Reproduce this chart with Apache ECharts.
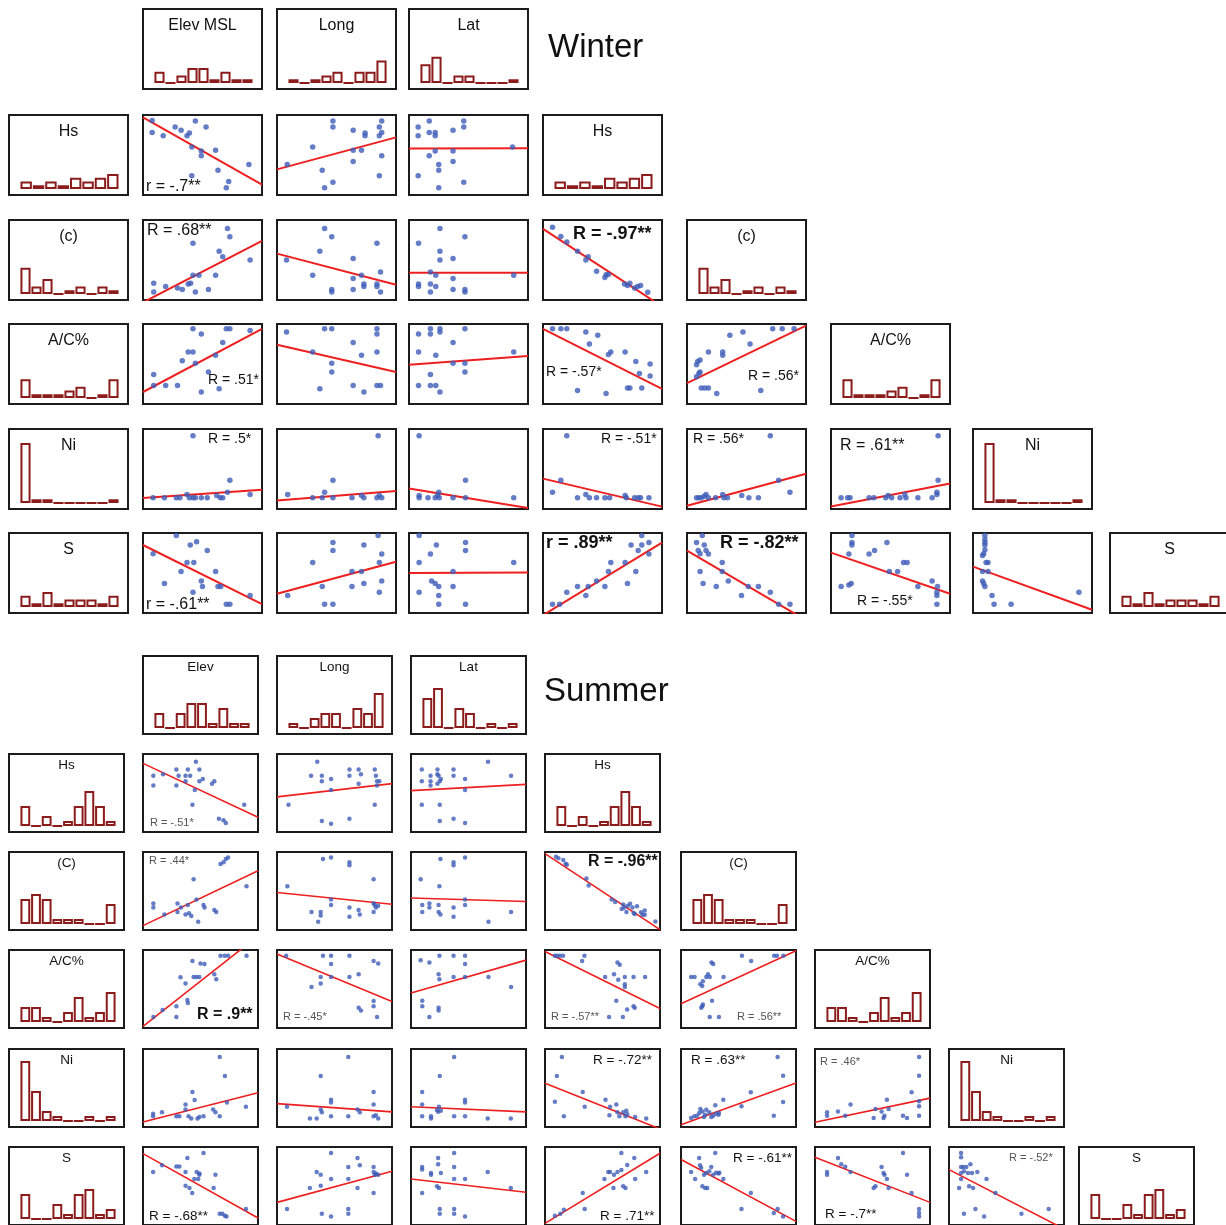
<!DOCTYPE html>
<html><head><meta charset="utf-8">
<script src="https://cdn.jsdelivr.net/npm/echarts@6/dist/echarts.min.js"></script>
<style>html,body{margin:0;padding:0;background:#fff}#c{width:1226px;height:1225px}</style>
</head><body><div id="c"></div>
<script>
// ---------- Winter histograms (counts per bin) ----------
var W_HIST_ELEV = [3,0,2,4,4,1,3,1,1];
var W_HIST_LONG = [1,0,1,2,3,0,3,3,6];
var W_HIST_LAT  = [5,7,0,2,2,0,0,0,1];
var W_HIST_HS   = [2,1,2,1,3,2,3,4];
var W_HIST_C    = [7,2,4,0,1,2,0,2,1];
var W_HIST_AC   = [5,1,1,1,2,3,0,1,5];
var W_HIST_NI   = [16,1,1,0,0,0,0,0,1];
var W_HIST_S    = [3,1,4,1,2,2,2,1,3];
// ---------- Summer histograms ----------
var SU_HIST_ELEV = [3,0,3,5,5,1,4,1,1];
var SU_HIST_LONG = [1,0,2,3,3,0,4,3,7];
var SU_HIST_LAT  = [6,8,0,4,3,0,1,0,1];
var SU_HIST_HS   = [4,0,2,0,1,4,7,4,1];
var SU_HIST_C    = [5,6,5,1,1,1,0,0,4];
var SU_HIST_AC   = [3,3,1,0,2,5,1,2,6];
var SU_HIST_NI   = [12,6,2,1,0,0,1,0,1];
var SU_HIST_S    = [5,0,0,3,1,5,6,1,2];

// ---------- labels ----------
var W_HDR = ['Elev MSL','Long','Lat'];
var W_ROWLAB = ['Hs','(c)','A/C%','Ni','S'];
var SU_HDR = ['Elev','Long','Lat'];
var SU_ROWLAB = ['Hs','(C)','A/C%','Ni','S'];
var W_NOTES = {HS_ELEV:'r = -.7**', C_ELEV:'R = .68**', C_HS:'R = -.97**', AC_ELEV:'R = .51*', AC_HS:'R = -.57*', AC_C:'R = .56*', NI_ELEV:'R = .5*', NI_HS:'R = -.51*', NI_C:'R = .56*', NI_AC:'R = .61**', S_ELEV:'r = -.61**', S_HS:'r = .89**', S_C:'R = -.82**', S_AC:'R = -.55*'};
var SU_NOTES = {HS_ELEV:'R = -.51*', C_ELEV:'R = .44*', C_HS:'R = -.96**', AC_ELEV:'R = .9**', AC_LONG:'R = -.45*', AC_HS:'R = -.57**', AC_C:'R = .56**', NI_HS:'R = -.72**', NI_C:'R = .63**', NI_AC:'R = .46*', S_ELEV:'R = -.68**', S_HS:'R = .71**', S_C:'R = -.61**', S_AC:'R = -.7**', S_NI:'R = -.52*'};

// ---------- Winter scatter points [x%, y%] and fitted lines ----------
var W_HS_ELEV = [[7.7,93],[7.7,78],[17,74],[27,85],[32,81],[37,74],[39,77.5],[44,92.5],[53,85],[41,60],[49,55],[49,49],[61,56],[63,31],[41,24],[72,17],[70,9],[89,38]];
var W_HS_ELEV_FIT = [[0,97],[100,13]];
var W_HS_LONG = [[47,92.5],[47,85],[64,81],[74,77.5],[74,74],[86,85],[88,92.5],[88,78],[86,74],[30,60],[8.6,38],[64,56],[71,56],[64,42],[88,49],[38,31],[47,16],[40,9],[86,24]];
var W_HS_LONG_FIT = [[0,32],[100,72]];
var W_HS_LAT = [[7.7,85],[7.7,74],[17,92.5],[17,78],[22,78],[22,74],[37,81],[46,92.5],[46,85],[22,55],[17,49],[37,55],[37,42],[25,38],[25,31],[7.7,24],[25,9],[46,16],[87,60]];
var W_HS_LAT_FIT = [[0,58],[100,58.5]];
var W_C_ELEV = [[9,21],[9,10],[19,17],[29,15],[33,13],[38,20],[40,21],[44,10],[42,31],[47,31],[55,13],[61,31],[42,71],[64,61],[67,54],[71,89.5],[73,79],[90,50]];
var W_C_ELEV_FIT = [[0,-3],[100,74]];
var W_C_LONG = [[8,50],[30,31],[36,61],[40,89.5],[46,79],[46,13],[46,10],[64,52],[64,27],[64,13],[71,31],[73,20],[73,17],[84,71],[84,20],[84,17],[87,35],[87,10]];
var W_C_LONG_FIT = [[0,58],[100,19]];
var W_C_LAT = [[8,71],[8,20],[8,17],[18,35],[18,20],[18,10],[22.5,31],[22.5,17],[26,89.5],[26,61],[26,50],[37,52],[37,27],[37,13],[47,79],[47,13],[47,10],[88,31]];
var W_C_LAT_FIT = [[0,34],[100,34]];
var W_C_HS = [[8,91],[15,79.5],[20,72.6],[29,61],[36,50],[38,54],[45,36],[52,28],[53,31.6],[55,32],[68.5,20],[71,18],[73,21],[77,15],[79.5,17],[82,18],[88,9.7]];
var W_C_HS_FIT = [[0,89],[100,-8]];
var W_AC_ELEV = [[9,37],[9,23],[19,23],[29,23],[33,54],[38,65],[42,65],[42,94],[44,51],[49,87.5],[49,15],[55,40],[61,61],[64,19],[67,77],[70,94],[73,94],[90,92]];
var W_AC_ELEV_FIT = [[0,15],[100,94]];
var W_AC_LONG = [[8,90],[30,65],[40,94],[46,94],[46,51],[46,40],[36,19],[64,77],[64,23],[71,61],[73,15],[84,94],[84,87.5],[84,65],[84,23],[87,23]];
var W_AC_LONG_FIT = [[0,74],[100,40]];
var W_AC_LAT = [[8,87.5],[8,65],[8,23],[18,94],[18,87.5],[18,37],[18,23],[22.5,61],[22.5,23],[26,94],[26,90],[26,15],[37,77],[37,51],[47,94],[47,51],[47,40],[88,65]];
var W_AC_LAT_FIT = [[0,49],[100,60]];
var W_AC_HS = [[8,94],[15,94],[20,94],[36,90],[46,86],[39,75],[55,62],[57,65],[69,65],[78,53],[81,38],[90,50],[90,35],[83,20],[71,20],[73,20],[53,13],[29,17]];
var W_AC_HS_FIT = [[0,94],[100,19]];
var W_AC_C = [[8,49],[9,53],[11,55],[8,34],[10,38],[11,40],[12,20],[15,20],[18,20],[18,65],[25,13],[30,65],[30,61],[36,86],[47,90],[53,75],[62,17],[72,94],[80,94],[90,94]];
var W_AC_C_FIT = [[0,26],[100,98]];
var W_NI_ELEV = [[8.5,14],[18,14],[28,14],[31,14],[37,18],[39,14],[42,14],[44,14],[49,14],[54,14],[62,17],[65,14],[67,14],[71,21],[73,36],[90,18],[42,91.5]];
var W_NI_ELEV_FIT = [[0,13.6],[100,24]];
var W_NI_LONG = [[9,18],[30,14],[38,14],[40,21],[47,36],[47,14],[63,14],[71,17],[73,14],[84,14],[86,17],[88,14],[85,91.5]];
var W_NI_LONG_FIT = [[0,10.6],[100,22.5]];
var W_NI_LAT = [[8.5,91.5],[8.5,17],[8.5,14],[16,14],[22,14],[24,17],[25,21],[25.4,14],[37,14],[47.5,36],[47.5,14],[88,14]];
var W_NI_LAT_FIT = [[0,25.5],[100,1.3]];
var W_NI_HS = [[8,21],[15,36],[20,91.5],[29,14],[36,18],[39,14],[45,14],[52,14],[56,14],[69,17],[70,14],[77,14],[80,14],[82,14],[89,14]];
var W_NI_HS_FIT = [[0,38],[100,3]];
var W_NI_C = [[8,14],[10,14],[12,14],[14.5,16],[16,18],[18,14],[24,14],[30,18],[31,14],[34,14],[46,17],[52,14],[60,14],[77,36],[86.5,21],[70,91.5]];
var W_NI_C_FIT = [[0,4],[100,44]];
var W_NI_AC = [[8.5,14],[14,14],[16,14],[32,14],[36,14],[46,14],[48,17],[51,14],[58,14],[62,18],[63,14],[73,14],[85,14],[89,18],[89,21],[90,36],[90,91.5]];
var W_NI_AC_FIT = [[0,3],[100,32]];
var W_S_ELEV = [[8.5,74],[18,37],[28,97],[32,52],[37,63],[39.7,85],[42.7,63],[45,89],[42,26],[49,40],[50,33],[54,78],[61,52],[63,33],[65.4,33],[70,11],[73,11],[90,22]];
var W_S_ELEV_FIT = [[0,85],[100,11]];
var W_S_LONG = [[9,22],[30,63],[38,33],[40,11],[47,88],[47,78],[47,11],[63,52],[63,33],[71,52],[73,85],[73,37],[85,97],[86,63],[88,73.8],[88,40],[86,26]];
var W_S_LONG_FIT = [[0,24],[100,64]];
var W_S_LAT = [[8.5,97],[8.5,63],[8.5,26],[18,73.8],[19,40],[22,37],[23,85],[25,33],[25,22],[25,11],[37,52],[37,33],[47.5,88],[47.5,78],[47.5,11],[88,63]];
var W_S_LAT_FIT = [[0,50],[100,50.5]];
var W_S_HS = [[8,11],[14,11],[20,26],[29,33],[36,22],[38,33],[45,40],[52,33],[55,52],[57,63],[69,63],[71,37],[74,85],[78,52],[80,78],[83,97],[83,85],[89,88],[89,73.8]];
var W_S_HS_FIT = [[0,-2.7],[100,88]];
var W_S_C = [[8,88],[9.4,78],[11,74],[12.8,97],[14.5,85],[16,78],[18,73.8],[11,52],[13.5,37],[24.6,33],[29.6,63],[29.6,52],[34.7,40],[45.8,22],[51.5,33],[60,33],[70,26],[77,11],[86.5,11]];
var W_S_C_FIT = [[0,78],[100,-9]];
var W_S_AC = [[8.5,33],[15,35],[17,37],[15,73.8],[17.6,97],[17.6,88],[17.6,85],[32,73.8],[36.6,78],[47,88],[49,52],[56,52],[61,63],[64,63],[73,33],[85,40],[89,26],[89,22],[89,11],[89.5,33]];
var W_S_AC_FIT = [[0,75.5],[100,24]];
var W_S_NI = [[10,97],[10,91.8],[10,88],[10,85],[10,79],[9,74],[8,72],[12.6,63],[11,63],[8,52],[12.6,52],[8,40],[9,37],[10,33],[16,22],[17.7,11],[32,11],[89,26]];
var W_S_NI_FIT = [[0,58],[100,4]];

// ---------- Summer scatter points and fitted lines ----------
var SU_HS_ELEV = [[9,72],[9,59.7],[17.4,74],[29,80],[29,59.7],[31,72],[37,72],[39,80],[41,72],[46,90],[49,80],[49,65],[37,65],[45,54],[52,68],[60,62],[62,65],[43,35],[88,35],[66,17],[70,15],[72,11.6]];
var SU_HS_ELEV_FIT = [[0,88],[100,19]];
var SU_HS_LONG = [[10,35],[29.6,72],[35,90],[39,72],[39,65],[39,14],[47,68],[47,54],[47,10.7],[63,80],[63,72],[63,17],[71,80],[73,74],[71,62],[85,80],[86,72],[87,65],[89,65],[87,59.7],[85,35]];
var SU_HS_LONG_FIT = [[0,45],[100,62]];
var SU_HS_LAT = [[9.4,80],[9.4,65],[9.4,35],[17,72],[17,65],[17,59.7],[23,80],[23,74],[24,72],[25,65],[23,62],[26,68],[25,35],[25,14],[37,80],[37,72],[37,17],[47,68],[47,54],[47,11.6],[67,90],[87,72]];
var SU_HS_LAT_FIT = [[0,53],[100,61]];
var SU_C_ELEV = [[9,34],[9,28.8],[18.6,20],[30,34],[30,23],[33,28.8],[37,20],[39,32],[40,21.5],[42,18],[44,65],[46.5,39],[48,10.7],[52.6,32],[53.5,28.8],[62,25.8],[63.7,23],[67.4,84.5],[70,87],[72,91],[74,93],[90,56]];
var SU_C_ELEV_FIT = [[0,5.6],[100,76]];
var SU_C_LONG = [[9,56],[30,23],[38,23],[38,18.5],[35.8,10.7],[40,91],[47,93],[47,39],[47,32],[63,87],[63,83],[63,28.8],[63,17],[71,25.8],[72,20],[84,65],[84,34],[84,23],[85,32],[86,28.8],[88,31]];
var SU_C_LONG_FIT = [[0,48],[100,33]];
var SU_C_LAT = [[8.4,65],[9.8,32],[9.8,23],[16,34],[16,28.8],[24,32],[24,23],[24.7,56],[25.6,20],[25.6,91],[37,87],[37,83],[37,28.8],[37,17],[47,93],[47,39],[47,32],[67.4,10.7],[87,23]];
var SU_C_LAT_FIT = [[0,41],[100,36.5]];
var SU_C_HS = [[9.5,94],[11.7,92],[15.9,89.6],[18,85],[19,83.5],[36,66],[38,57],[58,39],[61,36],[66.7,27],[68,32.6],[70.8,23],[72,31],[74,33.5],[76,29],[77,21.7],[78,20.4],[80,30.4],[83.5,22.6],[84.7,19.6],[86.7,25],[86.7,19.6],[96,10.9],[69,29]];
var SU_C_HS_FIT = [[0,98],[100,0.5]];
var SU_AC_ELEV = [[9,14],[17,23],[29,14],[29,28],[32.6,65],[37,57],[38.6,36],[39,32],[43,86],[44,65.5],[46.5,65.5],[49,65.5],[50,82.7],[53.5,82],[62,69],[63.7,62.5],[67.4,92.7],[71,92.7],[74,92.7],[90,92.7]];
var SU_AC_ELEV_FIT = [[0,2],[100,118]];
var SU_AC_LONG = [[8,92.7],[30,52.6],[38,65.5],[38,56.9],[40,92.7],[47,92.7],[47,82],[47,65.5],[63,92.7],[63,65.5],[71,69],[71,26],[73,22.4],[84,86],[88,82.7],[84,34.5],[84,28],[87,14]];
var SU_AC_LONG_FIT = [[0,95],[100,34]];
var SU_AC_LAT = [[8.4,87],[16,84],[24.7,92.7],[37,92.7],[47,92.7],[47,82],[24,69],[24.7,62.5],[37,65.5],[47,65.5],[67.4,65.5],[87,52.6],[9.8,35],[9.8,28],[24,26],[24,22.4],[16,14]];
var SU_AC_LAT_FIT = [[0,45],[100,87]];
var SU_AC_HS = [[8.6,92.7],[10.6,92.7],[12.9,92.7],[15.7,92.7],[32.3,86],[34.3,92.7],[52.3,65.5],[60,69],[63,84],[65,81],[63.7,62],[69.4,65.5],[69.4,56],[69.4,52.6],[77,65.5],[87,65.5],[62,35],[55.7,14],[67.7,14],[71.4,23.7],[77,28],[78,26]];
var SU_AC_HS_FIT = [[0,98],[100,25]];
var SU_AC_C = [[8.8,65.5],[11.8,65.5],[16.8,56],[18.5,54],[19,60],[22,65.5],[23.5,69],[25,65.5],[26.5,84],[28,82],[17.6,26],[18.5,28],[19,30],[27,35],[25,14],[33,14],[37,65.5],[53,92.7],[61,86],[81,92.7],[83.5,92.7],[89,92.7]];
var SU_AC_C_FIT = [[0,31],[100,99]];
var SU_NI_ELEV = [[8.8,17],[8.8,13.8],[16.5,19],[29,13.8],[31.6,13.8],[37,28.9],[37,22.4],[39.6,13.8],[42,10.8],[43,44.8],[44.9,34.5],[47.4,10.8],[49,12.9],[52.6,13.8],[61,22.4],[63,19],[66.7,13.8],[66.7,89.7],[71.2,65.5],[73,31.5],[89.5,25.9]];
var SU_NI_ELEV_FIT = [[0,6.5],[100,44]];
var SU_NI_LONG = [[8.7,25.9],[28.6,10.8],[34.5,10.8],[38,65.5],[38,22.4],[39,19],[47,35],[47,31.5],[47,13.8],[62,89.7],[62,13.8],[70,22.4],[72,19],[84,44.8],[84,28.9],[84,13.8],[86,15],[88,10.8]];
var SU_NI_LONG_FIT = [[0,30],[100,19.4]];
var SU_NI_LAT = [[9.7,44.8],[9.7,28.9],[9.7,13.8],[17.4,13.8],[17.4,10.8],[22.6,21.6],[23.6,19.4],[24.3,25.9],[25,65.5],[26,20.7],[37.5,89.7],[37.5,13.8],[47,35],[47,31.5],[47,13.8],[66.7,10.8],[86.8,10.8]];
var SU_NI_LAT_FIT = [[0,26],[100,19.4]];
var SU_NI_HS = [[8.6,32.3],[10.3,65.5],[14.7,89.7],[16.4,13.8],[32.8,44.8],[34.5,25.9],[52.6,35],[56,15],[56.6,25.9],[62,29],[63,19],[64.7,13.8],[68,19],[70,13.8],[70.7,20.7],[71.5,16.4],[78.4,12.9],[88,10.8]];
var SU_NI_HS_FIT = [[0,56],[100,-2.5]];
var SU_NI_C = [[8.8,11.5],[11.6,13.7],[14,14.5],[15.8,18],[16.8,23],[18.6,20],[20,12.8],[21,15.8],[22,22],[24.6,18.8],[26.3,12.8],[28,14.5],[29.8,28],[30.5,17],[32.6,15.8],[33,18],[36.8,35],[52.6,26.5],[60.7,44.4],[80.7,14.5],[84,89.7],[88.8,65.8],[88.8,32]];
var SU_NI_C_FIT = [[0,3],[100,56.4]];
var SU_NI_AC = [[10.5,18.8],[10.5,14.5],[20,20],[26.3,14.5],[30.9,29],[51,11.5],[52.6,23],[57.9,20],[59.6,11.5],[60.4,14.5],[62.5,35],[64,23],[76.5,14.5],[80,11.5],[84,44.4],[90.5,89.7],[90.5,65.8],[90.5,32.9],[90.5,26.5],[90.5,14.5]];
var SU_NI_AC_FIT = [[0,6],[100,37]];
var SU_S_ELEV = [[8.8,68],[16.5,76.5],[29,75],[31.6,75],[37,68],[38.6,86],[37,50.4],[40.4,47.4],[42.8,41],[44.6,59],[46.7,68],[49,64.5],[48,59],[49,66],[52.6,92.3],[61.4,47.4],[63,64.5],[66.7,14.5],[69,14.5],[71.2,12],[72.6,11],[89.5,20.5]];
var SU_S_ELEV_FIT = [[0,91.5],[100,9]];
var SU_S_LONG = [[8.7,20.5],[28.6,47.4],[34.5,68],[38,64.5],[38,50.4],[39,14.5],[47,59],[47,11],[47,92.3],[62,74.4],[62,59],[62,20.5],[62,14.5],[70,86],[72,76.5],[70,47.4],[84,74.4],[84,68],[85,64.5],[86,66],[88,64.5],[84,41]];
var SU_S_LONG_FIT = [[0,29],[100,69]];
var SU_S_LAT = [[9.7,74.4],[9.7,71],[9.7,41],[17.4,66.7],[17.4,64.5],[23.6,86],[23.6,77.8],[24.3,47.4],[22.6,49.6],[26,66.7],[37.5,92.3],[37.5,74.4],[37.5,59],[47,59],[66.7,68],[86.8,47.4],[25,20.5],[25,14.5],[37.5,20.5],[37.5,14.5],[47,11]];
var SU_S_LAT_FIT = [[0,59],[100,42]];
var SU_S_HS = [[8.6,12],[13.4,14.5],[16.4,19.7],[32.8,41],[34.5,20.5],[51.7,59],[55,68],[56.6,68],[59.5,47.4],[60,64.5],[63,68],[66.4,70.5],[66.4,92.3],[68,49.6],[70,47.4],[71.5,77],[77.6,86],[78.4,59],[88,68]];
var SU_S_HS_FIT = [[0,2],[100,92]];
var SU_S_C = [[8.8,68],[12.3,59],[15.8,86],[16.5,76.5],[17.5,73.5],[18.6,49.6],[20,64.5],[21,47.4],[22.8,47.4],[22,66.7],[24.6,68.8],[26.3,74.4],[28,64.5],[29.8,92.3],[30.5,67],[32.6,66],[33.3,67],[36.8,59],[52.6,20.5],[60.7,41],[80.7,15.4],[84,20.5],[88.8,11]];
var SU_S_C_FIT = [[0,84],[100,4.7]];
var SU_S_AC = [[10.5,68],[10.5,64.5],[20,86],[22.8,77.8],[26.3,74.8],[30.9,68],[51,47.4],[52.6,49.6],[57.9,74.4],[59.6,66.7],[60.4,64.5],[62.5,59],[64,47.4],[76.5,92.3],[80,64.5],[84,41],[90.5,20.5],[90.5,15.4],[90.5,11]];
var SU_S_AC_FIT = [[0,87],[100,29]];
var SU_S_NI = [[10.5,92.3],[10.5,87],[10.5,74.4],[10.5,66.7],[10.5,59],[12.3,74.4],[13,68.8],[15,74.4],[16.5,66.7],[18.6,77.8],[20,66.7],[17.5,49.6],[21,47.4],[24.6,68],[32.6,59],[40.4,41],[13,14.5],[23,20.5],[30.5,11],[63,14.5],[86.7,20.5],[8.8,47.4]];
var SU_S_NI_FIT = [[0,71],[100,-5]];

// ---------- layout (positions & styles only) ----------
var FONT = "'Liberation Sans', Arial, Helvetica, sans-serif";
var XV = ['ELEV','LONG','LAT','HS','C','AC','NI'];
var YV = ['HS','C','AC','NI','S'];
var HV = ['ELEV','LONG','LAT'];
var SEASONS = [
  {p:'W', title:'Winter', tx:548, ty:48, cols:[9,143,277,409,543,687,831,973,1110], rows:[9,115,220,324,429,533], w:119, h:80,
   ppc:3.75, dot:5.5, lw:2, lab:16, labDy:17, padL:11, padR:9, padB:6, hdr:W_HDR, rowLab:W_ROWLAB, notes:W_NOTES,
   fmt:{HS_ELEV:[3,72,16],C_ELEV:[4,11,16],C_HS:[30,14,18,1],AC_ELEV:[65,56,14],AC_HS:[3,48,14],AC_C:[61,52,14],NI_ELEV:[65,10,14],NI_HS:[58,10,14],NI_C:[6,10,14],NI_AC:[9,17,16],S_ELEV:[3,72,16],S_HS:[3,10,18,1],S_C:[33,10,18,1],S_AC:[26,68,14]}},
  {p:'SU', title:'Summer', tx:544, ty:692, cols:[9,143,277,411,545,681,815,949,1079], rows:[656,754,852,950,1049,1147], w:115, h:78,
   ppc:5, dot:4.5, lw:1.6, lab:13.5, labDy:11, padL:11, padR:8, padB:6, hdr:SU_HDR, rowLab:SU_ROWLAB, notes:SU_NOTES,
   fmt:{HS_ELEV:[7,69,11,0,1],C_ELEV:[6,9,11,0,1],C_HS:[43,10,16,1],AC_ELEV:[54,65,16,1],AC_LONG:[6,67,11,0,1],AC_HS:[6,67,11,0,1],AC_C:[56,67,11,0,1],NI_HS:[48,11,13.5],NI_C:[10,11,13.5],NI_AC:[5,13,11,0,1],S_ELEV:[6,69,13.5],S_HS:[55,69,13.5],S_C:[52,11,13.5],S_AC:[10,67,13.5],S_NI:[60,11,11,0,1]}}
];

var grids=[], xAxes=[], yAxes=[], series=[], graphics=[];
function addGrid(l,t,w,h,border){
  grids.push({left:l,top:t,width:w,height:h,show:border,borderColor:'#1c1c1c',borderWidth:2,backgroundColor:'rgba(0,0,0,0)'});
  return grids.length-1;
}
function scatterPanel(S,key,l,t){
  var gi=addGrid(l,t,S.w,S.h,true);
  xAxes.push({gridIndex:gi,type:'value',min:0,max:100,show:false});
  yAxes.push({gridIndex:gi,type:'value',min:0,max:100,show:false});
  series.push({type:'line',xAxisIndex:gi,yAxisIndex:gi,data:window[key+'_FIT'],symbol:'none',showSymbol:false,clip:true,silent:true,z:3,
    lineStyle:{color:'#ee1f1f',width:S.lw}});
  series.push({type:'scatter',xAxisIndex:gi,yAxisIndex:gi,data:window[key],symbolSize:S.dot,silent:true,z:4,
    itemStyle:{color:'#3d5cb8'}});
}
function histPanel(S,arr,label,l,t){
  graphics.push({type:'rect',shape:{x:l,y:t,width:S.w,height:S.h},style:{fill:'none',stroke:'#1c1c1c',lineWidth:2},z:10});
  var ih=S.h-S.padB-4;
  var gi=addGrid(l+S.padL,t+4,S.w-S.padL-S.padR,ih,false);
  xAxes.push({gridIndex:gi,type:'category',data:arr.map(function(v,i){return String(i);}),show:false,boundaryGap:true});
  yAxes.push({gridIndex:gi,type:'value',min:0,max:ih/S.ppc,show:false});
  series.push({type:'bar',xAxisIndex:gi,yAxisIndex:gi,data:arr,barCategoryGap:'8%',silent:true,z:3,
    itemStyle:{color:'#ffffff',borderColor:'#8c1c1c',borderWidth:2}});
  graphics.push({type:'text',x:l+S.w/2,y:t+S.labDy,z:20,
    style:{text:label,fontSize:S.lab,fontFamily:FONT,fill:'#111',align:'center',verticalAlign:'middle'}});
}
SEASONS.forEach(function(S){
  graphics.push({type:'text',x:S.tx,y:S.ty,z:20,style:{text:S.title,fontSize:33,fontFamily:FONT,fill:'#111',align:'left',verticalAlign:'middle'}});
  HV.forEach(function(v,i){ histPanel(S,window[S.p+'_HIST_'+v],S.hdr[i],S.cols[1+i],S.rows[0]); });
  YV.forEach(function(yv,r){
    var top=S.rows[1+r];
    histPanel(S,window[S.p+'_HIST_'+yv],S.rowLab[r],S.cols[0],top);
    for(var j=0;j<r+3;j++){
      var key=yv+'_'+XV[j];
      scatterPanel(S,S.p+'_'+key,S.cols[1+j],top);
      if(S.notes[key]){
        var f=S.fmt[key];
        graphics.push({type:'text',x:S.cols[1+j]+f[0],y:top+f[1],z:30,
          style:{text:S.notes[key],fontSize:f[2],fontWeight:f[3]?'bold':'normal',fontFamily:FONT,fill:f[4]?'#555':'#111',align:'left',verticalAlign:'middle'}});
      }
    }
    histPanel(S,window[S.p+'_HIST_'+yv],S.rowLab[r],S.cols[r+4],top);
  });
});

var chart=echarts.init(document.getElementById('c'),null,{renderer:'canvas'});
chart.setOption({animation:false,backgroundColor:'#ffffff',grid:grids,xAxis:xAxes,yAxis:yAxes,series:series,graphic:{elements:graphics}});
</script></body></html>
